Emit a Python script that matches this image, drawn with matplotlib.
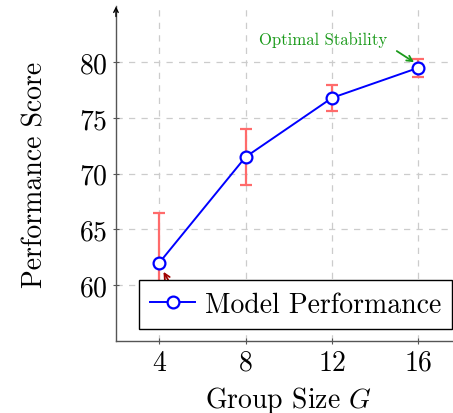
import matplotlib
matplotlib.use("Agg")
import matplotlib.pyplot as plt

plt.rcParams["font.family"] = "serif"
plt.rcParams["font.serif"] = ["cmr10", "DejaVu Serif"]
plt.rcParams["mathtext.fontset"] = "cm"
plt.rcParams["axes.formatter.use_mathtext"] = True

group_sizes = [4, 8, 12, 16]
scores = [62.0, 71.5, 76.8, 79.5]
errors = [4.5, 2.5, 1.2, 0.8]
x_ticks = [4, 8, 12, 16]
y_ticks = [60, 65, 70, 75, 80]

LINE_COLOR = "#0000ff"
ERR_COLOR = "#ff6b6b"
NOTE_COLOR = "#1a9a1a"
LOW_COLOR = "#a00000"

fig = plt.figure(figsize=(4.53, 4.14), dpi=100)
ax = fig.add_axes([0.256, 0.174, 0.763, 0.808])

ax.errorbar(group_sizes, scores, yerr=errors, fmt="none", ecolor=ERR_COLOR,
            elinewidth=1.6, capsize=4.5, capthick=1.6, zorder=3)
ax.plot(group_sizes, scores, color=LINE_COLOR, linewidth=1.4, marker="o",
        markersize=8.5, markerfacecolor="white", markeredgewidth=1.6,
        label="Model Performance", zorder=4)

# annotations
ax.text(11.6, 82.1, "Optimal Stability", color=NOTE_COLOR, fontsize=12,
        ha="center", va="center")
ax.annotate("", xy=(15.8, 80.0), xytext=(15.0, 81.0),
            arrowprops=dict(arrowstyle="->", color=NOTE_COLOR, lw=1.3,
                            shrinkA=0, shrinkB=0))
ax.annotate("", xy=(4.2, 61.2), xytext=(5.0, 58.5),
            arrowprops=dict(arrowstyle="->", color=LOW_COLOR, lw=1.3,
                            shrinkA=0, shrinkB=0), zorder=2)

ax.set_xlim(2, 18)
ax.set_ylim(55, 85)
ax.set_xticks(x_ticks)
ax.set_yticks(y_ticks)
ax.tick_params(labelsize=20, direction="inout", length=5, color="#555555", width=0.8)
ax.set_xlabel("Group Size $G$", fontsize=20, labelpad=6)
ax.set_ylabel("Performance Score", fontsize=20, labelpad=22)
ax.grid(True, color="#cccccc", linestyle=(0, (5, 5)), linewidth=0.9)

for side in ("top", "right"):
    ax.spines[side].set_visible(False)
for side in ("left", "bottom"):
    ax.spines[side].set_color("#555555")
    ax.spines[side].set_linewidth(1.0)
ax.annotate("", xy=(0, 1.0), xytext=(0, 0.97), xycoords="axes fraction",
            arrowprops=dict(arrowstyle="->", color="black", lw=1.0,
                            mutation_scale=8, shrinkA=0, shrinkB=0))

leg = ax.legend(loc="lower right", bbox_to_anchor=(452 / 453, 84 / 414),
                bbox_transform=fig.transFigure, borderaxespad=0,
                fontsize=20, fancybox=False, framealpha=1, edgecolor="black",
                handlelength=1.6, handletextpad=0.35, borderpad=0.4)
leg.get_frame().set_linewidth(1.0)
leg.set_zorder(10)

fig.savefig("out.png", dpi=100)
